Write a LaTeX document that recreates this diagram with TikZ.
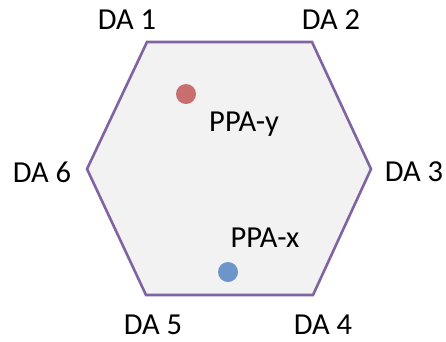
\documentclass[tikz,border=0pt]{standalone}
\usepackage{fontspec}
\setmainfont{Carlito}
\definecolor{hexline}{HTML}{8064A2}
\definecolor{hexfill}{HTML}{F2F2F2}
\definecolor{dotred}{HTML}{C86E6E}
\definecolor{dotblue}{HTML}{6D95C9}
\begin{document}
\begin{tikzpicture}[x=1pt,y=-1pt,
  lbl/.style={font=\fontsize{30.5}{34}\selectfont, inner sep=0pt, anchor=center},
  dot/.style={circle, inner sep=0pt, minimum size=20pt}]
\useasboundingbox (0,0) rectangle (446,341);
\coordinate (v1) at (147,42);
\coordinate (v2) at (312,42);
\coordinate (v3) at (371,169);
\coordinate (v4) at (313,295);
\coordinate (v5) at (146,295);
\coordinate (v6) at (87,169);
\draw[hexline, line width=2.6pt, fill=hexfill, line join=miter] (v1) -- (v2) -- (v3) -- (v4) -- (v5) -- (v6) -- cycle;
\node[lbl] (d1) at (127,20) {DA 1};
\node[lbl] (d2) at (331,20) {DA 2};
\node[lbl] (d3) at (414,172) {DA 3};
\node[lbl] (d4) at (323,325) {DA 4};
\node[lbl] (d5) at (153,325) {DA 5};
\node[lbl] (d6) at (42,172) {DA 6};
\node[dot, fill=dotred] (py) at (186,94) {};
\node[dot, fill=dotblue] (px) at (228,272) {};
\node[lbl] (ty) at (244,124) {PPA-y};
\node[lbl] (tx) at (265,238) {PPA-x};
\end{tikzpicture}
\end{document}
